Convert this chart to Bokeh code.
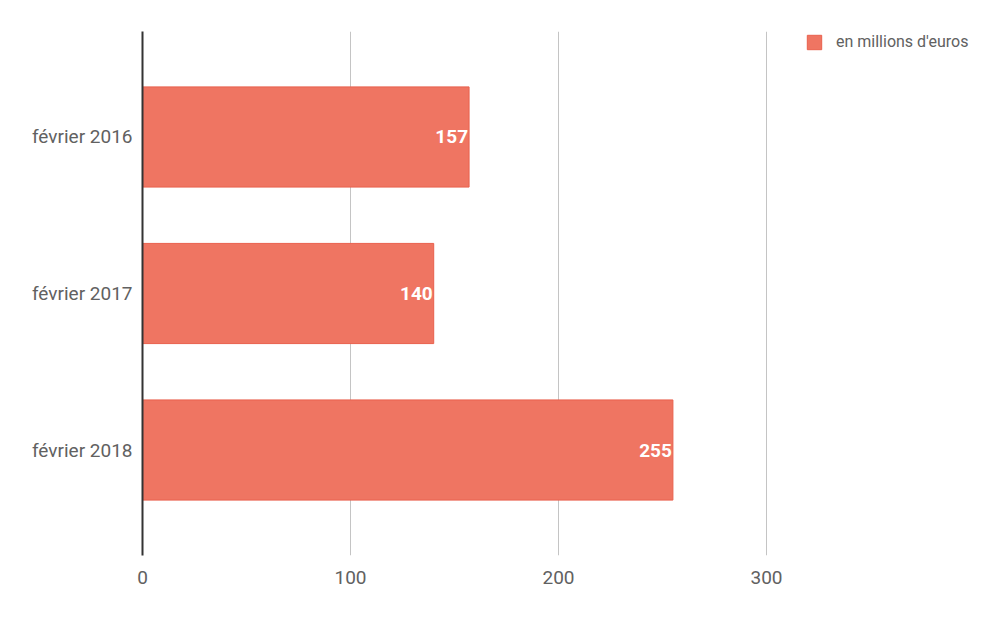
from bokeh.plotting import figure
from bokeh.models import ColumnDataSource, FactorRange, Range1d, FixedTicker, Legend, LegendItem
from bokeh.core.properties import value
from bokeh.embed import file_html
from bokeh.resources import INLINE

categories = ["février 2016", "février 2017", "février 2018"]
values = [157, 140, 255]
labels = [str(v) for v in values]
series_name = "en millions d'euros"
x_ticks = [0, 100, 200, 300]

FONT = "Roboto"
GREY = "#616161"

src = ColumnDataSource(dict(cat=categories, val=values, lab=labels))

p = figure(width=984, height=604, output_backend="svg", toolbar_location=None,
           y_range=FactorRange(factors=list(reversed(categories)), range_padding=0.116),
           x_range=Range1d(0, 404.8),
           min_border_left=142, min_border_right=0, min_border_top=31, min_border_bottom=49)
p.outline_line_color = None
p.background_fill_color = "white"
p.border_fill_color = "white"

r = p.hbar(y="cat", right="val", left=0, height=0.64, source=src,
           fill_color="#ef7562", line_color="#e9604d", line_width=1)

p.text(x="val", y="cat", text="lab", source=src, x_offset=-1,
       text_align="right", text_baseline="middle", text_color="white",
       text_font=value(FONT), text_font_style="bold", text_font_size="19px")

# x axis
p.xaxis.ticker = FixedTicker(ticks=x_ticks)
p.xaxis.axis_line_color = None
p.xaxis.major_tick_line_color = None
p.xaxis.minor_tick_line_color = None
p.xaxis.major_label_standoff = 9
p.xaxis.major_label_text_font = FONT
p.xaxis.major_label_text_font_size = "19px"
p.xaxis.major_label_text_color = GREY

# y axis
p.yaxis.axis_line_color = "#333333"
p.yaxis.axis_line_width = 2
p.yaxis.major_tick_line_color = None
p.yaxis.minor_tick_line_color = None
p.yaxis.major_label_standoff = 4
p.yaxis.major_label_text_font = FONT
p.yaxis.major_label_text_font_size = "19px"
p.yaxis.major_label_text_color = GREY

p.ygrid.grid_line_color = None
p.xgrid.ticker = FixedTicker(ticks=x_ticks)
p.xgrid.grid_line_color = "#c4c4c4"
p.xgrid.grid_line_width = 1

legend = Legend(items=[LegendItem(label=series_name, renderers=[r])],
                location=(663, 504), orientation="vertical",
                glyph_width=18, glyph_height=18, label_standoff=13,
                padding=0, margin=0, spacing=0,
                border_line_color=None, background_fill_alpha=0,
                label_text_font=FONT, label_text_font_size="16px",
                label_text_color=GREY)
p.add_layout(legend)

open("out.html", "w").write(file_html(p, INLINE))
